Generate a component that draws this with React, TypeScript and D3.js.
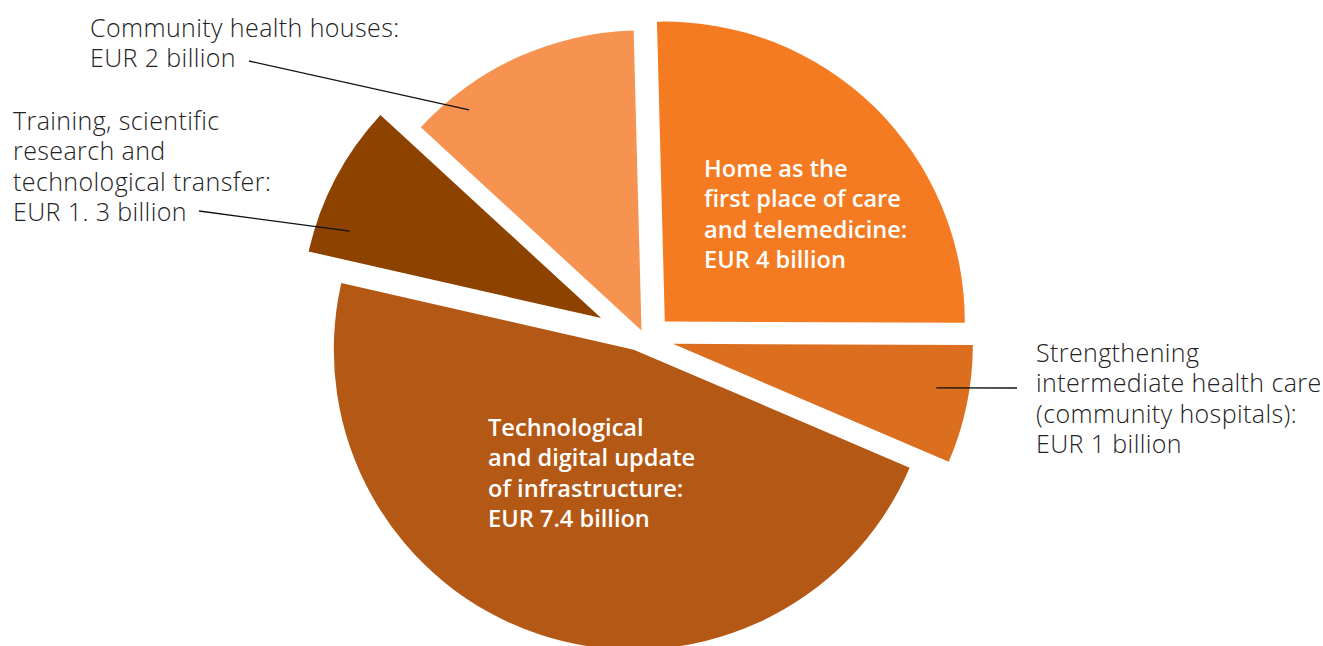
import React from "react";
import * as d3 from "d3";

// ---- data ----
const categories = [
  "Home as the first place of care and telemedicine",
  "Strengthening intermediate health care (community hospitals)",
  "Technological and digital update of infrastructure",
  "Training, scientific research and technological transfer",
  "Community health houses",
];
const values = [4, 1, 7.4, 1.3, 2]; // EUR billion
const labelLines = [
  ["Home as the", "first place of care", "and telemedicine:", "EUR 4 billion"],
  ["Strengthening", "intermediate health care", "(community hospitals):", "EUR 1 billion"],
  ["Technological", "and digital update", "of infrastructure:", "EUR 7.4 billion"],
  ["Training, scientific", "research and", "technological transfer:", "EUR 1. 3 billion"],
  ["Community health houses:", "EUR 2 billion"],
];

// ---- style / layout ----
const W = 1323;
const H = 646;
const colors = ["#F47B21", "#DC6E1F", "#B45915", "#8D4200", "#F69351"];
// explode offsets (dx, dy) of each slice from the pie centre
const explodeX = [24.8, 32.9, -6.2, -38.9, 1.5];
const explodeY = [-15.4, 6.8, 12.7, -18.9, -6.5];
const center = { x: 640, y: 337 };
const radius = 300;
const rotation = (-1.5 * Math.PI) / 180;
const labelLayout = [
  { inside: true, x: 704, y: 177 },
  { inside: false, x: 1036, y: 362, lineFrom: [1017, 388], angleDeg: 99.5, r: 267 },
  { inside: true, x: 488, y: 436 },
  { inside: false, x: 13, y: 130, lineFrom: [199, 211], angleDeg: 289.1, r: 266 },
  { inside: false, x: 90, y: 37, lineFrom: [249, 61], angleDeg: 322.0, r: 280 },
];
const lineHeight = 30.3;

export default function App() {
  const pie = d3
    .pie<number>()
    .sort(null)
    .startAngle(rotation)
    .endAngle(rotation + 2 * Math.PI);
  const arcs = pie(values);
  const arcGen = d3.arc<d3.PieArcDatum<number>>().innerRadius(0).outerRadius(radius);

  const apexOf = (i: number) => [center.x + explodeX[i], center.y + explodeY[i]];

  return (
    <svg
      width={W}
      height={H}
      style={{ position: "absolute", left: 0, top: 0, background: "#fff" }}
    >
      {arcs.map((a, i) => {
        const [ox, oy] = apexOf(i);
        return (
          <path
            key={categories[i]}
            d={arcGen(a) || ""}
            fill={colors[i]}
            transform={`translate(${ox},${oy})`}
          />
        );
      })}
      {arcs.map((a, i) => {
        const L = labelLayout[i];
        const [ox, oy] = apexOf(i);
        const lines = labelLines[i];
        if (L.inside) {
          return (
            <text
              key={"l" + i}
              x={L.x}
              y={L.y}
              fill="#ffffff"
              fontFamily="'Open Sans', sans-serif"
              fontWeight={600}
              fontSize={23.6}
            >
              {lines.map((t, k) => (
                <tspan key={k} x={L.x} y={L.y + k * lineHeight}>
                  {t}
                </tspan>
              ))}
            </text>
          );
        }
        const ang = ((L.angleDeg as number) * Math.PI) / 180;
        const ex = ox + Math.sin(ang) * (L.r as number);
        const ey = oy - Math.cos(ang) * (L.r as number);
        const [fx, fy] = L.lineFrom as number[];
        return (
          <g key={"l" + i}>
            <line x1={fx} y1={fy} x2={ex} y2={ey} stroke="#111" strokeWidth={1.3} />
            <text
              x={L.x}
              y={L.y}
              fill="#222222"
              fontFamily="'Open Sans', sans-serif"
              fontWeight={300}
              fontSize={25}
              letterSpacing={0.4}
            >
              {lines.map((t, k) => (
                <tspan key={k} x={L.x} y={L.y + k * lineHeight}>
                  {t}
                </tspan>
              ))}
            </text>
          </g>
        );
      })}
    </svg>
  );
}
